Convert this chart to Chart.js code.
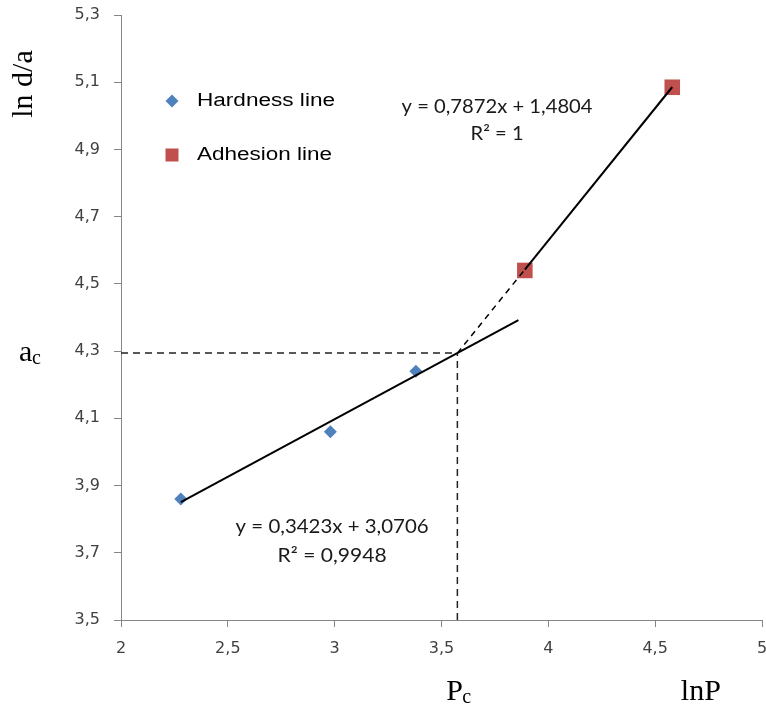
<!DOCTYPE html>
<html>
<head>
<meta charset="utf-8">
<script src="https://cdn.jsdelivr.net/npm/chart.js@4/dist/chart.umd.min.js"></script>
<style>
  html, body { margin: 0; padding: 0; background: #fff; }
  #wrap { width: 766px; height: 711px; }
</style>
</head>
<body>
<div id="wrap"><canvas id="c" width="766" height="711"></canvas></div>
<script>
// Measured points (lnP, ln d/a)
const hardnessX = [2.28, 2.98, 3.38];
const hardnessY = [3.86, 4.06, 4.24];
const adhesionX = [3.89, 4.58];
const adhesionY = [4.54, 5.085];

// Linear trend lines: y = slope * x + intercept
const hardnessFit = [0.3423, 3.0706];
const adhesionFit = [0.7872, 1.4804];
const hardnessR2 = '0,9948';
const adhesionR2 = '1';
const hardnessFitEnd = 3.86;   // forward forecast of the hardness line

const xTicks = [2, 2.5, 3, 3.5, 4, 4.5, 5];
const yTicks = [3.5, 3.7, 3.9, 4.1, 4.3, 4.5, 4.7, 4.9, 5.1, 5.3];

const fmt = (v, d) => v.toFixed(d).replace('.', ',');
const line = (fit, x) => fit[0] * x + fit[1];

// Critical point where the two lines cross
const pc = (hardnessFit[1] - adhesionFit[1]) / (adhesionFit[0] - hardnessFit[0]);
const ac = line(hardnessFit, pc);

const BLUE = '#4F81BD';
const RED = '#C0504D';

const xMin = xTicks[0], xMax = xTicks[xTicks.length - 1];
const yMin = yTicks[0], yMax = yTicks[yTicks.length - 1];

function fitText(ctx, text, x, y, width, align) {
  const w = ctx.measureText(text).width;
  ctx.save();
  ctx.translate(x, y);
  ctx.scale(width / w, 1);
  ctx.textAlign = align;
  ctx.fillText(text, 0, 0);
  ctx.restore();
}

const annotations = {
  id: 'annotations',
  afterDraw(chart) {
    const ctx = chart.ctx;
    const xs = chart.scales.x, ys = chart.scales.y;
    const ca = chart.chartArea;
    ctx.save();
    ctx.textBaseline = 'middle';

    // Legend
    const lx = ca.left + 51;
    const l1 = ca.top + 86, l2 = ca.top + 140;
    ctx.fillStyle = BLUE; ctx.beginPath();
    ctx.moveTo(lx, l1 - 6.5); ctx.lineTo(lx + 6.5, l1);
    ctx.lineTo(lx, l1 + 6.5); ctx.lineTo(lx - 6.5, l1); ctx.closePath(); ctx.fill();
    ctx.fillStyle = RED;
    ctx.fillRect(lx - 6.5, l2 - 6.5, 13, 13);
    ctx.fillStyle = '#000';
    ctx.font = '18px "Liberation Sans", Arial, sans-serif';
    fitText(ctx, 'Hardness line', lx + 25, l1, 138, 'left');
    fitText(ctx, 'Adhesion line', lx + 25, l2, 135, 'left');

    // Trend line equations
    ctx.fillStyle = '#1a1a1a';
    ctx.font = '19px Lato, "Open Sans", sans-serif';
    const e1x = xs.getPixelForValue(3.76), e1y = ys.getPixelForValue(5.026);
    fitText(ctx, 'y = ' + fmt(adhesionFit[0], 4) + 'x + ' + fmt(adhesionFit[1], 4), e1x, e1y, 191, 'center');
    fitText(ctx, 'R\u00B2 = ' + adhesionR2, e1x, e1y + 27, 53, 'center');
    const e2x = xs.getPixelForValue(2.988), e2y = ys.getPixelForValue(3.777);
    fitText(ctx, 'y = ' + fmt(hardnessFit[0], 4) + 'x + ' + fmt(hardnessFit[1], 4), e2x, e2y, 193, 'center');
    fitText(ctx, 'R\u00B2 = ' + hardnessR2, e2x, e2y + 29, 109, 'center');

    // Axis captions
    ctx.fillStyle = '#000';
    ctx.font = '30px "Liberation Serif", "Times New Roman", serif';
    ctx.save();
    ctx.translate(24, 84);
    ctx.rotate(-Math.PI / 2);
    ctx.textAlign = 'center';
    ctx.fillText('ln d/a', 0, 0);
    ctx.restore();

    ctx.textBaseline = 'alphabetic';
    ctx.textAlign = 'left';
    const acY = ys.getPixelForValue(ac);
    ctx.fillText('a', 19, acY + 8);
    ctx.font = '20px "Liberation Serif", "Times New Roman", serif';
    ctx.fillText('c', 32, acY + 11);

    const pcX = xs.getPixelForValue(pc);
    ctx.font = '30px "Liberation Serif", "Times New Roman", serif';
    ctx.fillText('P', pcX - 11, 700);
    ctx.font = '20px "Liberation Serif", "Times New Roman", serif';
    ctx.fillText('c', pcX + 5, 703);
    ctx.font = '30px "Liberation Serif", "Times New Roman", serif';
    ctx.fillText('lnP', xs.getPixelForValue(4.62), 700);
    ctx.restore();
  }
};

const pts = (xa, ya) => xa.map((x, i) => ({ x, y: ya[i] }));
const seg = (fit, x0, x1) => [{ x: x0, y: line(fit, x0) }, { x: x1, y: line(fit, x1) }];

const lineDs = (data, extra) => Object.assign({
  data, showLine: true, borderColor: '#000', borderWidth: 2,
  pointRadius: 0, pointHoverRadius: 0, fill: false, order: 1
}, extra);

new Chart(document.getElementById('c'), {
  type: 'scatter',
  data: {
    datasets: [
      lineDs(seg(hardnessFit, hardnessX[0], hardnessFitEnd), { label: 'Hardness trend' }),
      lineDs(seg(adhesionFit, adhesionX[0], adhesionX[adhesionX.length - 1]), { label: 'Adhesion trend' }),
      lineDs(seg(adhesionFit, pc, adhesionX[0]), { label: 'Adhesion backcast', borderWidth: 1.5, borderDash: [6, 5] }),
      lineDs([{ x: xMin, y: ac }, { x: pc, y: ac }], { label: 'ac', borderColor: '#222', borderWidth: 1.5, borderDash: [7, 5] }),
      lineDs([{ x: pc, y: yMin }, { x: pc, y: ac }], { label: 'Pc', borderColor: '#222', borderWidth: 1.5, borderDash: [7, 5] }),
      {
        label: 'Hardness line', data: pts(hardnessX, hardnessY), order: 2,
        pointStyle: 'rectRot', pointRadius: 6.5, pointHoverRadius: 6.5,
        backgroundColor: BLUE, borderColor: BLUE, borderWidth: 0
      },
      {
        label: 'Adhesion line', data: pts(adhesionX, adhesionY), order: 2,
        pointStyle: 'rect', pointRadius: 11, pointHoverRadius: 11,
        backgroundColor: RED, borderColor: RED, borderWidth: 0
      }
    ]
  },
  options: {
    responsive: false,
    animation: false,
    devicePixelRatio: 1,
    layout: { autoPadding: false, padding: { left: 65, top: 15, right: 4, bottom: 41 } },
    plugins: { legend: { display: false }, tooltip: { enabled: false }, title: { display: false } },
    scales: {
      x: {
        type: 'linear', min: xMin, max: xMax,
        afterBuildTicks: s => { s.ticks = xTicks.map(v => ({ value: v })); },
        afterFit: s => { s.height = 50; s.paddingLeft = 0; s.paddingRight = 0; },
        ticks: {
          callback: v => String(v).replace('.', ','),
          font: { family: '"DejaVu Sans", sans-serif', size: 16 },
          color: '#404040', padding: 12, maxRotation: 0, autoSkip: false
        },
        grid: { drawOnChartArea: false, drawTicks: true, tickLength: 7, color: '#868686' },
        border: { display: true, color: '#868686' }
      },
      y: {
        type: 'linear', min: yMin, max: yMax,
        afterBuildTicks: s => { s.ticks = yTicks.map(v => ({ value: v })); },
        afterFit: s => { s.width = 56; s.paddingTop = 0; s.paddingBottom = 0; },
        ticks: {
          callback: v => fmt(v, 1),
          font: { family: '"DejaVu Sans", sans-serif', size: 16 },
          color: '#404040', padding: 14, autoSkip: false
        },
        grid: { drawOnChartArea: false, drawTicks: true, tickLength: 7, color: '#868686' },
        border: { display: true, color: '#868686' }
      }
    }
  },
  plugins: [annotations]
});
</script>
</body>
</html>
